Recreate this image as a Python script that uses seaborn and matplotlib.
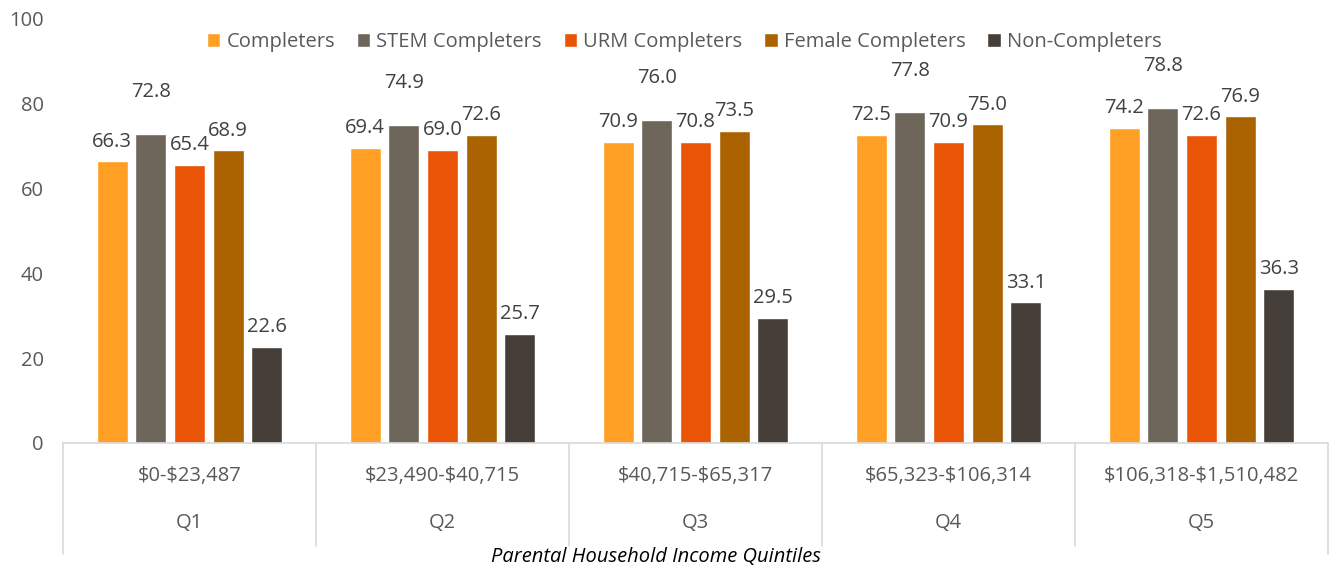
import numpy as np
import pandas as pd
import matplotlib
matplotlib.use("Agg")
import matplotlib.pyplot as plt
import matplotlib.transforms as mtransforms
import seaborn as sns

# data
quintiles = ["Q1", "Q2", "Q3", "Q4", "Q5"]
income_ranges = ["$0-$23,487", "$23,490-$40,715", "$40,715-$65,317",
                 "$65,323-$106,314", "$106,318-$1,510,482"]
groups = ["Completers", "STEM Completers", "URM Completers",
          "Female Completers", "Non-Completers"]
completers = [66.3, 69.4, 70.9, 72.5, 74.2]
stem_completers = [72.8, 74.9, 76.0, 77.8, 78.8]
urm_completers = [65.4, 69.0, 70.8, 70.9, 72.6]
female_completers = [68.9, 72.6, 73.5, 75.0, 76.9]
non_completers = [22.6, 25.7, 29.5, 33.1, 36.3]

colors = ["#FFA024", "#6E665A", "#E95407", "#AA6300", "#463E38"]
TEXT = "#595959"
FS = 14.5

sns.set_theme(style="white")
plt.rcParams["font.family"] = ["Open Sans", "DejaVu Sans"]

series = [completers, stem_completers, urm_completers, female_completers, non_completers]
rows = []
for g, vals in zip(groups, series):
    for q, v in zip(quintiles, vals):
        rows.append({"quintile": q, "group": g, "value": v})
df = pd.DataFrame(rows)

fig = plt.figure(figsize=(13.34, 5.67), dpi=100)
ax = fig.add_axes([0.0472, 0.2187, 0.9483, 0.7493])

sns.barplot(data=df, x="quintile", y="value", hue="group", order=quintiles,
            hue_order=groups, palette=colors, width=0.765, gap=0.2,
            saturation=1, errorbar=None, ax=ax, legend=True)

ax.set_ylim(0, 100)
ax.set_yticks(np.arange(0, 101, 20))
ax.set_xlim(-0.5, len(quintiles) - 0.5)
ax.tick_params(axis="y", labelsize=FS, colors=TEXT, length=0, pad=14)
ax.tick_params(axis="x", length=0, labelbottom=False)
ax.set_xlabel("")
ax.set_ylabel("")
for s in ["top", "right", "left"]:
    ax.spines[s].set_visible(False)
ax.spines["bottom"].set_color("#D9D9D9")
ax.spines["bottom"].set_linewidth(1.2)

# data labels (STEM labels sit higher in the original)
for i, cont in enumerate(ax.containers):
    pad = 23 if i == 1 else 7
    ax.bar_label(cont, fmt="%.1f", padding=pad, fontsize=FS, color="#404040")

# category table below the axis
trans = mtransforms.blended_transform_factory(ax.transData, ax.transAxes)
for k in range(len(quintiles) + 1):
    x = k - 0.5
    bottom = -0.262 if k in (0, len(quintiles)) else -0.243
    ax.plot([x, x], [0, bottom], transform=trans, color="#D9D9D9",
            lw=1.2, clip_on=False)
for i, (q, inc) in enumerate(zip(quintiles, income_ranges)):
    ax.text(i, -0.078, inc, transform=trans, ha="center", va="center",
            fontsize=FS, color=TEXT, parse_math=False)
    ax.text(i, -0.188, q, transform=trans, ha="center", va="center",
            fontsize=FS, color=TEXT)

fig.text(0.492, 0.018, "Parental Household Income Quintiles", ha="center",
         va="center", fontsize=FS, style="italic", color="black")

handles, labels = ax.get_legend_handles_labels()
ax.get_legend().remove()
fig.legend(handles, labels, loc="center", bbox_to_anchor=(0.513, 0.926),
           ncol=5, frameon=False, fontsize=FS, labelcolor=TEXT,
           handlelength=0.65, handleheight=0.65, handletextpad=0.3,
           columnspacing=1.1)

fig.savefig("out.png", dpi=100)
